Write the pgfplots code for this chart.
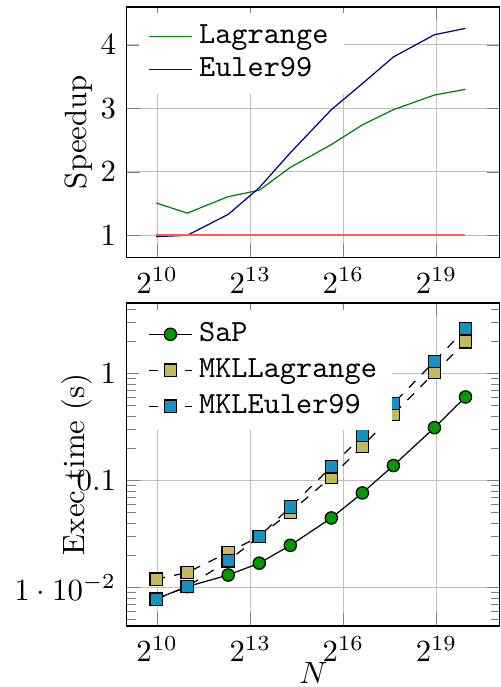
\documentclass[border=0pt]{standalone}
\usepackage{pgfplots}
\pgfplotsset{compat=1.18}
\definecolor{olivefill}{RGB}{196,186,90}
\definecolor{bluefill}{RGB}{22,146,194}
\begin{document}
\begin{tikzpicture}
% speedup
\begin{axis}[name=top, at={(0,0)}, anchor=north west,
  scale only axis, width=121.1pt, height=81.2pt,
  xmode=log, log basis x=2, xmin=520, xmax=2.15e6,
  xtick={1024,8192,65536,524288},
  xticklabels={$2^{10}$,$2^{13}$,$2^{16}$,$2^{19}$},
  ymin=0.657, ymax=4.595, ytick={1,2,3,4},
  grid=major,
  ylabel={Speedup},
  ylabel style={at={(axis description cs:-0.064,0.5)}, anchor=south},
  legend style={at={(axis description cs:0.03,0.98)}, anchor=north west,
    draw=none, fill=white, font=\ttfamily, row sep=-1pt},
  legend image code/.code={\draw[mark repeat=2,mark phase=2,#1]
    plot coordinates {(0cm,0cm) (0.25cm,0cm) (0.5cm,0cm)};},
  legend cell align=left]
\addplot[green!50!black] coordinates {
  (1000,1.51) (2000,1.35) (5000,1.61) (10000,1.71) (20000,2.07)
  (50000,2.43) (100000,2.74) (200000,2.98) (500000,3.21) (1000000,3.30)};
\addlegendentry{Lagrange}
\addplot[blue!50!black] coordinates {
  (1000,0.98) (2000,1.00) (5000,1.33) (10000,1.75) (20000,2.30)
  (50000,2.98) (100000,3.39) (200000,3.81) (500000,4.16) (1000000,4.26)};
\addlegendentry{Euler99}
\addplot[red!65, semithick, forget plot] coordinates {(1000,1) (1000000,1)};
\end{axis}
% execution time
\begin{axis}[at={(0,-96.1pt)}, anchor=north west,
  scale only axis, width=121.1pt, height=104.9pt,
  xmode=log, log basis x=2, xmin=520, xmax=2.15e6,
  xtick={1024,8192,65536,524288},
  xticklabels={$2^{10}$,$2^{13}$,$2^{16}$,$2^{19}$},
  ymode=log, ymin=0.00437, ymax=4.56,
  ytick={0.01,0.1,1}, yticklabels={$1\cdot 10^{-2}$,$0.1$,$1$},
  minor ytick={0.005,0.006,0.007,0.008,0.009,0.02,0.03,0.04,0.05,0.06,0.07,0.08,0.09,
    0.2,0.3,0.4,0.5,0.6,0.7,0.8,0.9,2,3,4},
  grid=major,
  ylabel={Exec time (s)},
  ylabel style={at={(axis description cs:-0.064,0.5)}, anchor=south},
  xlabel={$N$},
  xlabel style={at={(axis description cs:0.5,-0.0796)}, anchor=north},
  legend style={at={(axis description cs:0.03,0.98)}, anchor=north west,
    draw=none, fill=white, font=\ttfamily},
  legend image code/.code={\draw[mark repeat=2,mark phase=2,#1]
    plot coordinates {(0cm,0cm) (0.25cm,0cm) (0.5cm,0cm)};},
  legend cell align=left]
\addplot[black, mark=*, mark options={fill=green!60!black}] coordinates {
  (1000,0.00783) (2000,0.0102) (5000,0.0131) (10000,0.0169) (20000,0.0248)
  (50000,0.0447) (100000,0.0766) (200000,0.138) (500000,0.312) (1000000,0.604)};
\addlegendentry{SaP}
\addplot[black, dashed, mark=square*, mark options={solid, fill=olivefill}] coordinates {
  (1000,0.01197) (2000,0.0138) (5000,0.0213) (10000,0.0300) (20000,0.0508)
  (50000,0.108) (100000,0.210) (200000,0.416) (500000,1.02) (1000000,1.98)};
\addlegendentry{MKLLagrange}
\addplot[black, dashed, mark=square*, mark options={solid, fill=bluefill}] coordinates {
  (1000,0.0078) (2000,0.0102) (5000,0.0178) (10000,0.0300) (20000,0.0566)
  (50000,0.134) (100000,0.264) (200000,0.524) (500000,1.30) (1000000,2.61)};
\addlegendentry{MKLEuler99}
\end{axis}
\pgfresetboundingbox
\path (-41.2pt,2.3pt) rectangle (121.4pt,-220.8pt);
\end{tikzpicture}
\end{document}
